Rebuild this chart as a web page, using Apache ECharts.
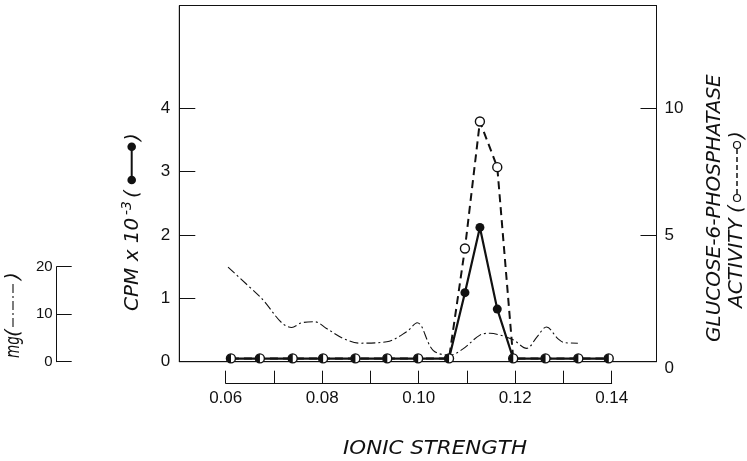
<!DOCTYPE html>
<html>
<head>
<meta charset="utf-8">
<script src="https://cdn.jsdelivr.net/npm/echarts@6/dist/echarts.min.js"></script>
<style>
  html, body { margin: 0; padding: 0; background: #fff; }
  #chart { width: 747px; height: 461px; }
</style>
</head>
<body>
<div id="chart"></div>
<script>
// ionic strength of each fraction
var ionicStrength = [0.0611, 0.0671, 0.0739, 0.0802, 0.0869, 0.0935, 0.0999, 0.1063, 0.1096, 0.1127, 0.1163, 0.1196, 0.1263, 0.1331, 0.1394];
// CPM x 10^-3 (filled circles)
var cpm = [0.05, 0.05, 0.05, 0.05, 0.05, 0.05, 0.05, 0.05, 1.09, 2.12, 0.83, 0.05, 0.05, 0.05, 0.05];
// glucose-6-phosphatase activity (open circles)
var g6pActivity = [0.13, 0.13, 0.13, 0.13, 0.13, 0.13, 0.13, 0.13, 4.47, 9.48, 7.68, 0.13, 0.13, 0.13, 0.13];
// protein, mg (dash-dot curve)
var mgX = [0.0605, 0.0671, 0.0737, 0.0758, 0.0785, 0.0809, 0.0844, 0.0878, 0.0934, 0.0975, 0.0997, 0.1030, 0.1065, 0.1092, 0.1127, 0.1148, 0.1169, 0.1196, 0.1224, 0.1245, 0.1265, 0.1289, 0.1303, 0.1330];
var mgValues = [19.9, 13.7, 7.2, 8.2, 8.4, 7.0, 4.9, 3.9, 4.2, 6.3, 8.2, 2.4, 1.4, 2.7, 5.6, 6.0, 5.6, 4.6, 2.8, 5.2, 7.3, 4.8, 4.0, 3.9];

var cpmTicks = [0, 1, 2, 3, 4];
var activityTicks = [0, 5, 10];

var INK = '#111';
var TITLE = 'italic 200 20px "DejaVu Sans"';
var HALF_DISC = 'path://M10,0 A10,10 0 0,0 10,20 Z';

function pairs(xs, ys) {
    var out = [];
    for (var i = 0; i < xs.length; i++) out.push([xs[i], ys[i]]);
    return out;
}

// baseline points look half filled (both series sit on top of each other)
var cpmData = pairs(ionicStrength, cpm).map(function (p) {
    if (p[1] < 0.2) {
        return { value: p, symbol: HALF_DISC, symbolKeepAspect: true, symbolOffset: [-2.2, 0] };
    }
    return { value: p };
});

function vText(x, y, text, font, extra) {
    var el = {
        type: 'text', x: x, y: y, rotation: Math.PI / 2,
        style: { text: text, font: font || TITLE, fill: INK, align: 'left', verticalAlign: 'middle' }
    };
    if (extra) for (var k in extra) el[k] = extra[k];
    return el;
}

var myChart = echarts.init(document.getElementById('chart'), null, { renderer: 'canvas' });
var option = {
    animation: false,
    backgroundColor: '#fff',
    grid: [
        { left: 179.3, right: 90.5, top: 5.5, bottom: 99.3, show: true, borderColor: INK, borderWidth: 1, backgroundColor: 'transparent' },
        { left: 225.7, width: 386, top: 370.7, height: 12.6 },
        { left: 56.7, width: 15, top: 266.7, height: 95 }
    ],
    xAxis: [
        {
            gridIndex: 0, type: 'value', min: 0.0504, max: 0.1493,
            axisLine: { show: true, onZero: false, lineStyle: { color: INK, width: 1 } },
            axisTick: { show: false }, axisLabel: { show: false }, splitLine: { show: false }
        },
        {
            gridIndex: 1, type: 'value', min: 0.06, max: 0.14, interval: 0.01,
            axisLine: { show: true, onZero: false, lineStyle: { color: INK, width: 1 } },
            axisTick: { show: true, inside: true, length: 12.6, lineStyle: { color: INK, width: 1 } },
            axisLabel: {
                show: true, margin: 7, color: INK, fontSize: 17, fontFamily: 'Liberation Sans',
                formatter: function (v) {
                    return Math.round(v * 100) % 2 === 0 ? v.toFixed(2) : '';
                }
            },
            splitLine: { show: false }
        },
        { gridIndex: 2, type: 'value', show: false }
    ],
    yAxis: [
        {
            gridIndex: 0, type: 'value', position: 'left', min: 0, max: 5.623, interval: 1,
            axisLine: { show: true, lineStyle: { color: INK, width: 1 } },
            axisTick: { show: true, inside: true, length: 16, customValues: cpmTicks, lineStyle: { color: INK } },
            axisLabel: { show: true, margin: 9, color: INK, fontSize: 17, fontFamily: 'Liberation Sans', customValues: cpmTicks },
            splitLine: { show: false }
        },
        {
            gridIndex: 0, type: 'value', position: 'right', min: 0, max: 14.06, interval: 5,
            axisLine: { show: true, lineStyle: { color: INK, width: 1 } },
            axisTick: { show: true, inside: true, length: 16, customValues: activityTicks, lineStyle: { color: INK } },
            axisLabel: {
                show: true, margin: 8, color: INK, fontSize: 17, fontFamily: 'Liberation Sans', customValues: activityTicks,
                formatter: function (v) { return v === 0 ? '{low|0}' : String(v); },
                rich: { low: { fontSize: 17, fontFamily: 'Liberation Sans', color: INK, padding: [14, 0, 0, 0] } }
            },
            splitLine: { show: false }
        },
        { gridIndex: 0, type: 'value', min: 0, max: 75, show: false },
        {
            gridIndex: 2, type: 'value', position: 'left', min: 0, max: 20, interval: 10,
            axisLine: { show: true, lineStyle: { color: INK, width: 1 } },
            axisTick: { show: true, inside: true, length: 15, lineStyle: { color: INK } },
            axisLabel: { show: true, margin: 4, color: INK, fontSize: 15, fontFamily: 'Liberation Sans' },
            splitLine: { show: false }
        },
        { gridIndex: 1, type: 'value', show: false }
    ],
    series: [
        {
            name: 'mg', type: 'line', xAxisIndex: 0, yAxisIndex: 2,
            data: pairs(mgX, mgValues), smooth: 0.35, showSymbol: false, silent: true,
            lineStyle: { color: INK, width: 1.1, type: [9, 3, 2, 3] }
        },
        {
            name: 'G6Pase', type: 'line', xAxisIndex: 0, yAxisIndex: 1,
            data: pairs(ionicStrength, g6pActivity), symbol: 'circle', symbolSize: 9,
            itemStyle: { color: '#fff', borderColor: INK, borderWidth: 1.4 },
            lineStyle: { color: INK, width: 2, type: [8, 5] }
        },
        {
            name: 'CPM', type: 'line', xAxisIndex: 0, yAxisIndex: 0,
            data: cpmData, symbol: 'circle', symbolSize: 9,
            itemStyle: { color: INK },
            lineStyle: { color: INK, width: 2.2 }
        }
    ],
    graphic: [
        // left title: CPM x 10^-3 (filled symbol)
        vText(133, 311, 'CPM x 10'),
        vText(127, 215, '-3', 'italic 200 14px "DejaVu Sans"'),
        vText(133, 198, '('),
        { type: 'line', shape: { x1: 131.7, y1: 180, x2: 131.7, y2: 146.7 }, style: { stroke: INK, lineWidth: 2 } },
        { type: 'circle', shape: { cx: 131.7, cy: 180, r: 4.3 }, style: { fill: INK } },
        { type: 'circle', shape: { cx: 131.7, cy: 146.7, r: 4.3 }, style: { fill: INK } },
        vText(134, 141, ')'),
        // right title
        vText(715, 342, 'GLUCOSE-6-PHOSPHATASE'),
        vText(737, 308, 'ACTIVITY'),
        vText(737, 213, '('),
        { type: 'line', shape: { x1: 737, y1: 194, x2: 737, y2: 149 }, style: { stroke: INK, lineWidth: 1.5, lineDash: [5, 3] } },
        { type: 'circle', shape: { cx: 737, cy: 198, r: 3.5 }, style: { fill: '#fff', stroke: INK, lineWidth: 1.2 } },
        { type: 'circle', shape: { cx: 737, cy: 145, r: 3.5 }, style: { fill: '#fff', stroke: INK, lineWidth: 1.2 } },
        vText(738, 139, ')'),
        // mg title
        vText(14, 358, 'mg', null, { scaleX: 0.68 }),
        vText(14, 337, '('),
        { type: 'line', shape: { x1: 13, y1: 327, x2: 13, y2: 283 }, style: { stroke: INK, lineWidth: 1.1, lineDash: [9, 3, 2, 3] } },
        vText(14, 280, ')'),
        // x title
        {
            type: 'text', x: 435, y: 449, scaleX: 1.07,
            style: { text: 'IONIC STRENGTH', font: TITLE, fill: INK, align: 'center', verticalAlign: 'middle' }
        }
    ]
};
myChart.setOption(option);
</script>
</body>
</html>
